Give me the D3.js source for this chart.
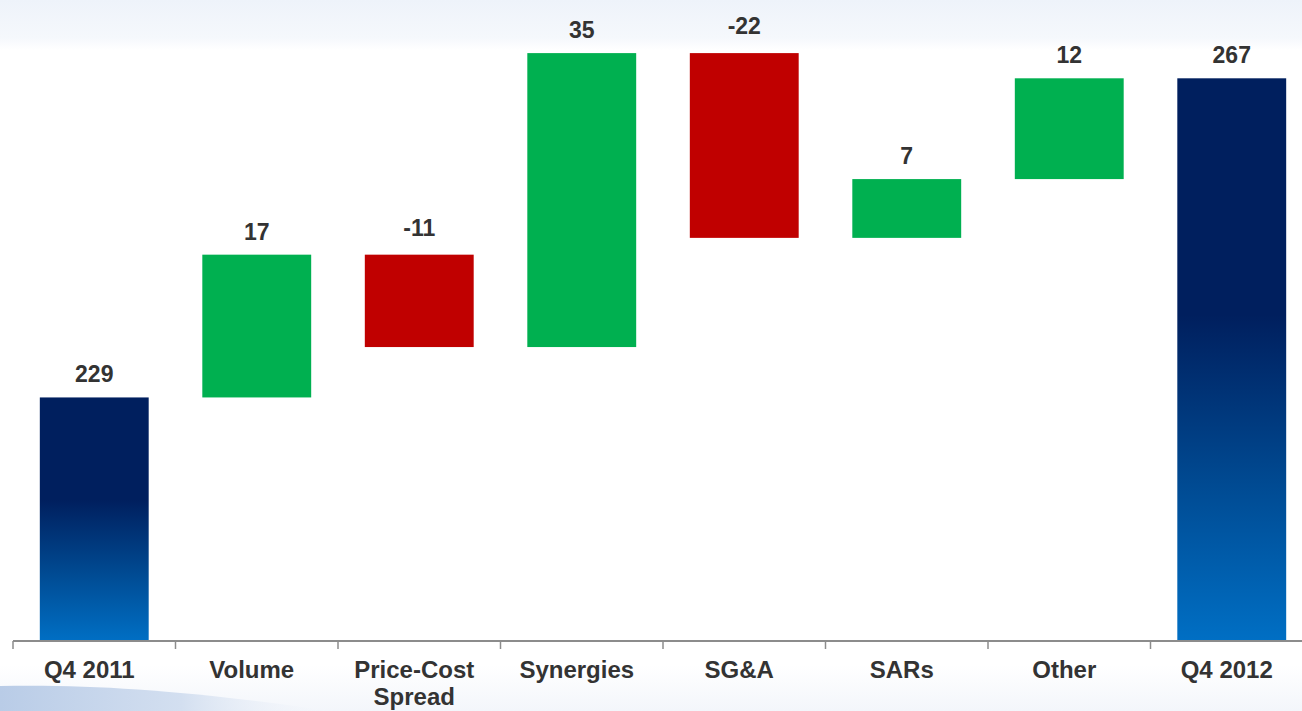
<!DOCTYPE html>
<html>
<head>
<meta charset="utf-8">
<script src="https://cdn.jsdelivr.net/npm/d3@7"></script>
<style>
  html, body { margin: 0; padding: 0; background: #ffffff; }
  svg { display: block; }
  text { font-family: Arial, "Liberation Sans", sans-serif; font-weight: bold; fill: #333333; }
</style>
</head>
<body>
<svg id="chart" width="1302" height="711"></svg>
<script>
// Operating income bridge, Q4 2011 to Q4 2012
const categories = ["Q4 2011", "Volume", "Price-Cost Spread", "Synergies", "SG&A", "SARs", "Other", "Q4 2012"];
const changes    = [229, 17, -11, 35, -22, 7, 12, 267];
const kinds      = ["total", "delta", "delta", "delta", "delta", "delta", "delta", "total"];
const axisFloor  = 200;

const W = 1302, H = 711;
const svg = d3.select("#chart");
const defs = svg.append("defs");

// background washes
const topWash = defs.append("linearGradient").attr("id", "topWash").attr("x1", 0).attr("y1", 0).attr("x2", 0).attr("y2", 1);
topWash.append("stop").attr("offset", 0).attr("stop-color", "#eef3fa");
topWash.append("stop").attr("offset", 0.75).attr("stop-color", "#f5f8fc");
topWash.append("stop").attr("offset", 1).attr("stop-color", "#ffffff");
const botWash = defs.append("linearGradient").attr("id", "botWash").attr("x1", 0).attr("y1", 0).attr("x2", 0).attr("y2", 1);
botWash.append("stop").attr("offset", 0).attr("stop-color", "#ffffff");
botWash.append("stop").attr("offset", 1).attr("stop-color", "#f3f6fb");
const swoosh = defs.append("linearGradient").attr("id", "swoosh").attr("x1", 0).attr("y1", 0).attr("x2", 1).attr("y2", 0);
swoosh.append("stop").attr("offset", 0).attr("stop-color", "#b9cce7");
swoosh.append("stop").attr("offset", 0.55).attr("stop-color", "#d3dff0");
swoosh.append("stop").attr("offset", 1).attr("stop-color", "#f3f6fb").attr("stop-opacity", 0);

// total bars: navy fading into bright blue at the base
const totalFill = defs.append("linearGradient").attr("id", "totalFill").attr("x1", 0).attr("y1", 0).attr("x2", 0).attr("y2", 1);
totalFill.append("stop").attr("offset", 0).attr("stop-color", "#001f5e");
totalFill.append("stop").attr("offset", 0.42).attr("stop-color", "#001f5e");
totalFill.append("stop").attr("offset", 0.72).attr("stop-color", "#004a92");
totalFill.append("stop").attr("offset", 1).attr("stop-color", "#006fc4");

svg.append("rect").attr("x", 0).attr("y", 0).attr("width", W).attr("height", 50).attr("fill", "url(#topWash)");
svg.append("rect").attr("x", 0).attr("y", 665).attr("width", W).attr("height", 46).attr("fill", "url(#botWash)");
svg.append("path")
  .attr("d", "M0,686 C100,684 200,692 330,711 L0,711 Z")
  .attr("fill", "url(#swoosh)");

// running totals for the floating bars
let running = 0;
const bars = categories.map((c, i) => {
  let lo, hi;
  if (kinds[i] === "total") {
    lo = axisFloor; hi = changes[i]; running = changes[i];
  } else {
    const start = running; running += changes[i];
    lo = Math.min(start, running); hi = Math.max(start, running);
  }
  return { cat: c, value: changes[i], kind: kinds[i], lo, hi };
});

const x = d3.scaleBand().domain(categories).range([13, 1313]).paddingInner(0.33).paddingOuter(0.165);
const y = d3.scaleLinear().domain([axisFloor, 267]).range([641, 78.3]);

const fillFor = d => d.kind === "total" ? "url(#totalFill)" : (d.value >= 0 ? "#00b050" : "#c00000");

svg.append("g").selectAll("rect").data(bars).join("rect")
  .attr("x", d => x(d.cat))
  .attr("y", d => y(d.hi))
  .attr("width", x.bandwidth())
  .attr("height", d => y(d.lo) - y(d.hi))
  .attr("fill", fillFor);

// value labels above each bar
svg.append("g").selectAll("text").data(bars).join("text")
  .attr("x", d => x(d.cat) + x.bandwidth() / 2)
  .attr("y", d => y(d.hi) - (d.value < 0 ? 19 : 15))
  .attr("text-anchor", "middle")
  .attr("font-size", 23)
  .text(d => String(d.value));

// category axis with ticks on the band boundaries
const step = x.step();
const axisG = svg.append("g").attr("transform", "translate(0,641)");
axisG.append("line").attr("x1", 13).attr("x2", W).attr("y1", 0).attr("y2", 0)
  .attr("stroke", "#8c8c8c").attr("stroke-width", 2);
axisG.selectAll("line.tick").data(d3.range(categories.length)).join("line")
  .attr("class", "tick")
  .attr("x1", i => 13 + i * step).attr("x2", i => 13 + i * step)
  .attr("y1", 0).attr("y2", 8)
  .attr("stroke", "#8c8c8c").attr("stroke-width", 1.5);

const labelMap = { "Price-Cost Spread": ["Price-Cost", "Spread"] };
const catLabels = axisG.selectAll("text.cat").data(categories).join("text")
  .attr("class", "cat")
  .attr("x", d => x(d) + x.bandwidth() / 2 - 5)
  .attr("y", 37)
  .attr("text-anchor", "middle")
  .attr("font-size", 24);
catLabels.each(function (d) {
  const lines = labelMap[d] || [d];
  d3.select(this).selectAll("tspan").data(lines).join("tspan")
    .attr("x", x(d) + x.bandwidth() / 2 - 5)
    .attr("dy", (l, k) => k === 0 ? 0 : 27)
    .text(l => l);
});
</script>
</body>
</html>
